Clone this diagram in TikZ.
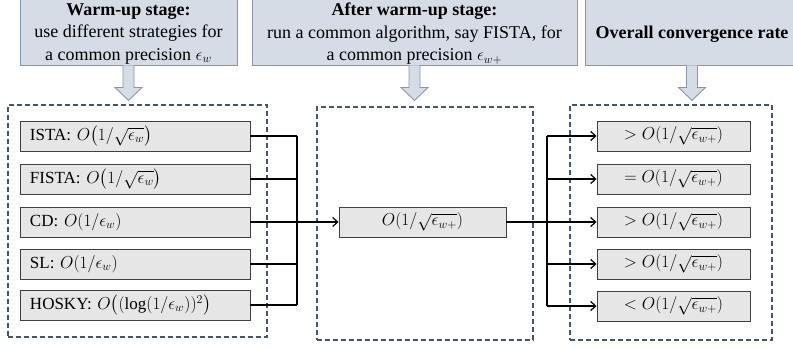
\documentclass[tikz,border=0pt]{standalone}
\usepackage{amsmath,amssymb}
\usepackage{fontspec}
\setmainfont{Liberation Serif}
\usepackage{xcolor}
\usetikzlibrary{arrows.meta, positioning}

\definecolor{headfill}{HTML}{D6DCE5}
\definecolor{headline}{HTML}{8497B0}
\definecolor{dashline}{HTML}{44546A}
\definecolor{ratefill}{HTML}{E7E6E6}
\definecolor{rateline}{HTML}{404040}

\begin{document}
\begin{tikzpicture}[
    x=1pt, y=-1pt,
    font=\fontsize{17}{21}\selectfont,
    head/.style={draw=headline, fill=headfill, align=center, inner sep=0pt, text depth=0pt,
                 minimum height=66pt, line width=0.9pt, font=\fontsize{18}{22.5}\selectfont},
    stagebox/.style={draw=dashline, dash pattern=on 5pt off 3pt, line width=1.2pt, inner sep=0pt},
    rate/.style={draw=rateline, fill=ratefill, inner sep=0pt, minimum height=30pt, line width=0.9pt},
    warmrate/.style={rate, inner xsep=10pt, text width=210pt, align=left},
    outrate/.style={rate, minimum width=153pt},
    hollow/.style={draw=headline, fill=headfill, line width=0.9pt},
    arr/.style={-{Straight Barb[length=5pt, width=9pt]}, line width=1.2pt},
    wire/.style={line width=1.2pt},
]
\clip (0,0) rectangle (793,348);

% Stage headers
\node[head, minimum width=217pt] (warm) at (128.5,32)
    {\textbf{Warm-up stage:}\\use different strategies for\\a common precision $\epsilon_w$};
\node[head, minimum width=325pt] (after) at (414.5,32)
    {\textbf{After warm-up stage:}\\run a common algorithm, say FISTA, for\\a common precision $\epsilon_{w+}$};
\node[head, minimum width=214pt] (overall) at (692,32) {\textbf{Overall convergence rate}};
\foreach \n in {warm,after,overall}
  \draw[hollow] ([xshift=-5.5pt]\n.south) -- ++(0,22) -- ++(-8,0) -- ++(13.5,13)
                -- ++(13.5,-13) -- ++(-8,0) -- ++(0,-22);

% Dashed stage frames
\node[stagebox, minimum width=259pt, minimum height=232pt] (stagewarm) at (137.5,221) {};
\node[stagebox, minimum width=216pt, minimum height=233pt] (stageafter) at (425,223.5) {};
\node[stagebox, minimum width=202pt, minimum height=235pt] (stageall) at (671,222.5) {};

% Warm-up strategies
\node[warmrate] (ista) at (135,136) {ISTA: $O\bigl(1/\sqrt{\epsilon_w}\bigr)$};
\node[warmrate] (fista) at (135,179) {FISTA: $O\bigl(1/\sqrt{\epsilon_w}\bigr)$};
\node[warmrate] (cd) at (135,222) {CD: $O(1/\epsilon_w)$};
\node[warmrate] (sl) at (135,264) {SL: $O(1/\epsilon_w)$};
\node[warmrate] (hosky) at (135,305) {HOSKY: $O\bigl((\log(1/\epsilon_w))^2\bigr)$};

% Common algorithm
\node[rate, minimum width=167pt] (common) at (422.5,222) {$O(1/\sqrt{\epsilon_{w+}})$};

% Overall rates
\node[outrate] (r1) at (673.5,136) {$>O(1/\sqrt{\epsilon_{w+}})$};
\node[outrate] (r2) at (673.5,179) {$=O(1/\sqrt{\epsilon_{w+}})$};
\node[outrate] (r3) at (673.5,222) {$>O(1/\sqrt{\epsilon_{w+}})$};
\node[outrate] (r4) at (673.5,264) {$>O(1/\sqrt{\epsilon_{w+}})$};
\node[outrate] (r5) at (673.5,306) {$<O(1/\sqrt{\epsilon_{w+}})$};

% Connectors
\coordinate (busin) at (297,222);
\coordinate (busout) at (547,222);
\foreach \n in {ista,fista,sl,hosky}
  \draw[wire] (\n.east) -- (\n.east -| busin);
\draw[wire] (ista.east -| busin) -- (hosky.east -| busin);
\draw[arr] (cd) -- (common);
\draw[wire] (common) -- (busout);
\draw[wire] (r1.west -| busout) -- (r5.west -| busout);
\foreach \n in {r1,r2,r3,r4,r5}
  \draw[arr] (\n.west -| busout) -- (\n);
\end{tikzpicture}
\end{document}
